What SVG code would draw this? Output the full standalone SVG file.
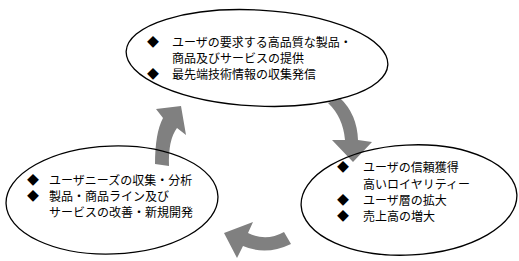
<svg xmlns="http://www.w3.org/2000/svg" width="519" height="261" viewBox="0 0 519 261">
<style>
.bg{fill:#ffffff}
.arrow{fill:#808080;stroke:none}
.ell{fill:none;stroke:#000000;stroke-width:1.3}
.t{font-family:"Noto Sans CJK JP","Noto Sans CJK SC",sans-serif;font-size:12px;fill:#000000}
</style>
<rect class="bg" x="0" y="0" width="519" height="261"/>
<g id="connectors">
<path id="arrow-left-to-top" class="arrow" d="M181,106 L186,135 L177,128 Q168,140 169,166 L155,164 Q155,133 163,118 L156,109 Z"/>
<path id="arrow-top-to-right" class="arrow" d="M353,162 L332,140 L345,140 Q343,117 328,103 L340,98 Q357,114 358,140 L372,142 Z"/>
<path id="arrow-right-to-left" class="arrow" d="M224,233 L253,222 L248,233 Q266,242 284,232 L291,244 Q266,256 243,246 L237,258 Z"/>
</g>
<g id="node-top">
<ellipse class="ell" cx="257" cy="58" rx="131" ry="48" transform="rotate(3 257 58)"/>
<text class="t" x="147" y="47">◆</text>
<text class="t" x="172" y="47">ユーザの要求する高品質な製品・</text>
<text class="t" x="172" y="63">商品及びサービスの提供</text>
<text class="t" x="147" y="79">◆</text>
<text class="t" x="172" y="79">最先端技術情報の収集発信</text>
</g>
<g id="node-left">
<ellipse class="ell" cx="112" cy="200" rx="106" ry="54" transform="rotate(-2 112 200)"/>
<text class="t" x="27" y="185">◆</text>
<text class="t" x="49" y="185">ユーザニーズの収集・分析</text>
<text class="t" x="27" y="201">◆</text>
<text class="t" x="49" y="201">製品・商品ライン及び</text>
<text class="t" x="49" y="217">サービスの改善・新規開発</text>
</g>
<g id="node-right">
<ellipse class="ell" cx="409" cy="200" rx="108" ry="55" transform="rotate(-3 409 200)"/>
<text class="t" x="337" y="172">◆</text>
<text class="t" x="363" y="172">ユーザの信頼獲得</text>
<text class="t" x="363" y="189">高いロイヤリティー</text>
<text class="t" x="337" y="205">◆</text>
<text class="t" x="363" y="205">ユーザ層の拡大</text>
<text class="t" x="337" y="221">◆</text>
<text class="t" x="363" y="221">売上高の増大</text>
</g>
</svg>
